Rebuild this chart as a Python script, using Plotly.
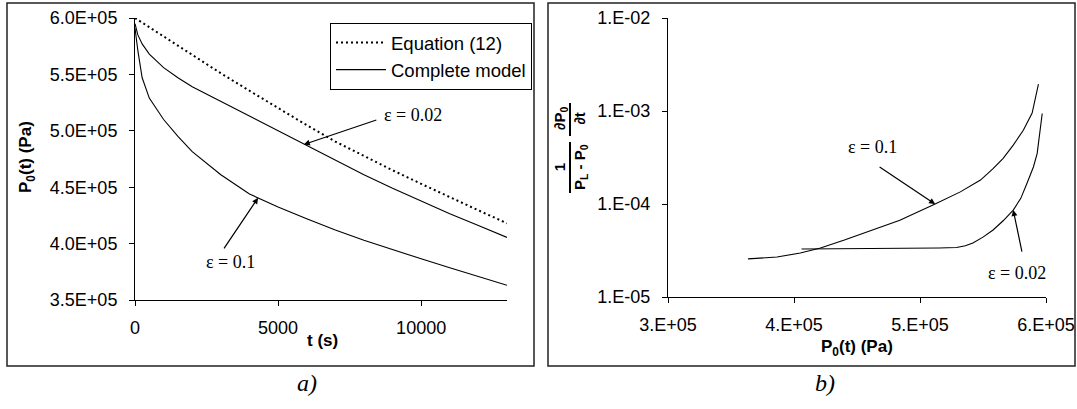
import numpy as np
import plotly.graph_objects as go

W, H = 1077, 409
SANS = "Liberation Sans, Arial, sans-serif"
SERIF = "Liberation Serif, Times New Roman, serif"


def fx(x):
    return x / W


def fy(y):
    return 1 - y / H


# ---------------- data: panel a) ----------------
t_eq = [0, 1000, 2000, 3000, 4000, 5000, 6000, 7000, 8000, 9000, 10000, 11000, 12000, 13000]
p_eq = [6.00e5, 5.835e5, 5.67e5, 5.51e5, 5.355e5, 5.20e5, 5.05e5, 4.905e5, 4.775e5, 4.65e5,
        4.53e5, 4.41e5, 4.295e5, 4.18e5]

t_cm = [0, 50, 100, 250, 500, 1000, 1500, 2000, 3000, 4000, 5000, 6000, 7000, 8000, 9000,
        10000, 11000, 12000, 13000]
p_cm_002 = [5.95e5, 5.89e5, 5.85e5, 5.77e5, 5.68e5, 5.56e5, 5.47e5, 5.39e5, 5.26e5, 5.13e5,
            5.00e5, 4.865e5, 4.735e5, 4.61e5, 4.49e5, 4.375e5, 4.265e5, 4.16e5, 4.055e5]
p_cm_01 = [5.91e5, 5.79e5, 5.71e5, 5.47e5, 5.29e5, 5.10e5, 4.95e5, 4.815e5, 4.61e5, 4.44e5,
           4.325e5, 4.22e5, 4.12e5, 4.03e5, 3.945e5, 3.865e5, 3.785e5, 3.705e5, 3.63e5]

xa_ticks = [0, 5000, 10000]
xa_text = ["0", "5000", "10000"]
ya_ticks = [3.5e5, 4.0e5, 4.5e5, 5.0e5, 5.5e5, 6.0e5]
ya_text = ["3.5E+05", "4.0E+05", "4.5E+05", "5.0E+05", "5.5E+05", "6.0E+05"]

# ---------------- data: panel b) ----------------
pb_01 = [3.635e5, 3.75e5, 3.865e5, 4.05e5, 4.21e5, 4.40e5, 4.58e5, 4.84e5, 5.12e5, 5.32e5,
         5.48e5, 5.58e5, 5.66e5, 5.74e5, 5.82e5, 5.89e5, 5.94e5]
rb_01 = [2.57e-5, 2.62e-5, 2.69e-5, 2.97e-5, 3.37e-5, 4.1e-5, 5.0e-5, 6.7e-5, 1.0e-4, 1.35e-4,
         1.81e-4, 2.4e-4, 3.1e-4, 4.3e-4, 6.2e-4, 9.5e-4, 1.95e-3]

pb_002 = [4.06e5, 4.30e5, 4.50e5, 4.75e5, 4.98e5, 5.15e5, 5.29e5, 5.36e5, 5.42e5, 5.50e5,
          5.58e5, 5.66e5, 5.74e5, 5.80e5, 5.85e5, 5.90e5, 5.93e5, 5.97e5]
rb_002 = [3.28e-5, 3.29e-5, 3.30e-5, 3.31e-5, 3.33e-5, 3.36e-5, 3.40e-5, 3.55e-5, 3.8e-5, 4.4e-5,
          5.25e-5, 6.6e-5, 8.6e-5, 1.15e-4, 1.68e-4, 2.5e-4, 3.5e-4, 9.4e-4]

xb_ticks = [3e5, 4e5, 5e5, 6e5]
xb_text = ["3.E+05", "4.E+05", "5.E+05", "6.E+05"]
yb_ticks = [1e-5, 1e-4, 1e-3, 1e-2]
yb_text = ["1.E-05", "1.E-04", "1.E-03", "1.E-02"]

fig = go.Figure()
fig.add_trace(go.Scatter(x=t_eq, y=p_eq, mode="lines", name="Equation (12)",
                         line=dict(color="black", width=2, dash="2px,3px"),
                         xaxis="x", yaxis="y"))
fig.add_trace(go.Scatter(x=t_cm, y=p_cm_002, mode="lines", name="Complete model",
                         line=dict(color="black", width=1.1),
                         xaxis="x", yaxis="y"))
fig.add_trace(go.Scatter(x=t_cm, y=p_cm_01, mode="lines", name="Complete model ε=0.1",
                         showlegend=False, line=dict(color="black", width=1.1),
                         xaxis="x", yaxis="y"))
fig.add_trace(go.Scatter(x=pb_01, y=rb_01, mode="lines", showlegend=False,
                         line=dict(color="black", width=1.1),
                         xaxis="x2", yaxis="y2"))
fig.add_trace(go.Scatter(x=pb_002, y=rb_002, mode="lines", showlegend=False,
                         line=dict(color="black", width=1.1),
                         xaxis="x2", yaxis="y2"))

axis_common = dict(showgrid=False, zeroline=False, showline=True, linecolor="black",
                   linewidth=1, ticks="outside", ticklen=5, tickcolor="black",
                   automargin=False,
                   tickfont=dict(family=SANS, size=18, color="black"))

fig.update_layout(
    template="none",
    width=W, height=H, autosize=False,
    margin=dict(l=0, r=0, t=0, b=0, pad=0),
    paper_bgcolor="white", plot_bgcolor="white",
    xaxis=dict(domain=[fx(135), fx(507)], range=[0, 13000], tickvals=xa_ticks, ticktext=xa_text,
               anchor="y", ticklabelstandoff=6, **axis_common),
    yaxis=dict(domain=[fy(300), fy(18)], range=[3.5e5, 6.0e5], tickvals=ya_ticks,
               ticktext=ya_text, anchor="x", ticklabelstandoff=8, **axis_common),
    xaxis2=dict(domain=[fx(668), fx(1046)], range=[3e5, 6e5], tickvals=xb_ticks,
                ticktext=xb_text, anchor="y2", ticklabelstandoff=6, **axis_common),
    yaxis2=dict(domain=[fy(297), fy(18)], type="log", range=[-5, -2], tickvals=yb_ticks,
                ticktext=yb_text, anchor="x2", ticklabelstandoff=8, **axis_common),
    legend=dict(x=fx(330), y=fy(23), xanchor="left", yanchor="top",
                bordercolor="black", borderwidth=1, bgcolor="white", itemwidth=50,
                font=dict(family=SANS, size=18.5, color="black"), tracegroupgap=0),
    showlegend=True,
)

# panel frames
fig.add_shape(type="rect", xref="paper", yref="paper", x0=fx(7), x1=fx(534), y0=fy(366), y1=fy(3),
              line=dict(color="#222", width=1.5))
fig.add_shape(type="rect", xref="paper", yref="paper", x0=fx(548), x1=fx(1075), y0=fy(366), y1=fy(3),
              line=dict(color="#222", width=1.5))


def label(text, x, y, font, angle=0):
    return dict(text=text, xref="paper", yref="paper", x=fx(x), y=fy(y), xanchor="center",
                yanchor="middle", textangle=angle, showarrow=False, font=font)


sans17 = dict(family=SANS, size=17, color="black")
sans15 = dict(family=SANS, size=15, color="black")
eps_font = dict(family=SERIF, size=18, color="black")
panel_font = dict(family=SERIF, size=24, color="black")

ann = []
# axis titles
ann.append(label("<b>P<sub>0</sub>(t) (Pa)</b>", 27, 157, sans17, -90))
ann.append(label("<b>t (s)</b>", 322, 340, sans17))
ann.append(label("<b>P<sub>0</sub>(t) (Pa)</b>", 857, 348, sans17))
# y title panel b (rotated fraction)
ann.append(label("<b>1<br>P<sub>L</sub> - P<sub>0</sub></b>", 570, 167, sans15, -90))
ann.append(label("<b>∂P<sub>0</sub><br>∂t</b>", 570, 119, sans15, -90))
fig.add_shape(type="line", xref="paper", yref="paper", x0=fx(570), x1=fx(570), y0=fy(142), y1=fy(193),
              line=dict(color="black", width=2))
fig.add_shape(type="line", xref="paper", yref="paper", x0=fx(570), x1=fx(570), y0=fy(103), y1=fy(136),
              line=dict(color="black", width=2))

# panel labels
ann.append(label("<i>a)</i>", 307, 383, panel_font))
ann.append(label("<i>b)</i>", 825, 383, panel_font))

# epsilon labels and arrows
arrow_style = dict(showarrow=True, arrowhead=2, arrowsize=1, arrowwidth=1.2, arrowcolor="black")
ann.append(label("ε = 0.02", 413, 115, eps_font))
ann.append(dict(text="", xref="x", yref="y", x=5900, y=float(np.interp(5900, t_cm, p_cm_002)),
                ax=74, ay=-25, **arrow_style))
ann.append(label("ε = 0.1", 230, 262, eps_font))
ann.append(dict(text="", xref="x", yref="y", x=4300, y=float(np.interp(4300, t_cm, p_cm_01)),
                ax=-35, ay=52, **arrow_style))
ann.append(label("ε = 0.1", 872, 147, eps_font))
ann.append(dict(text="", xref="x2", yref="y2", x=5.12e5,
                y=float(np.interp(5.12e5, pb_01, np.log10(rb_01))),
                ax=-57, ay=-38, **arrow_style))
ann.append(label("ε = 0.02", 1017, 273, eps_font))
ann.append(dict(text="", xref="x2", yref="y2", x=5.74e5,
                y=float(np.interp(5.74e5, pb_002, np.log10(rb_002))),
                ax=9, ay=43, **arrow_style))

fig.update_layout(annotations=ann)
fig.write_html("out.html", config={"displayModeBar": False},
               post_script="document.body.style.margin='0px';")
